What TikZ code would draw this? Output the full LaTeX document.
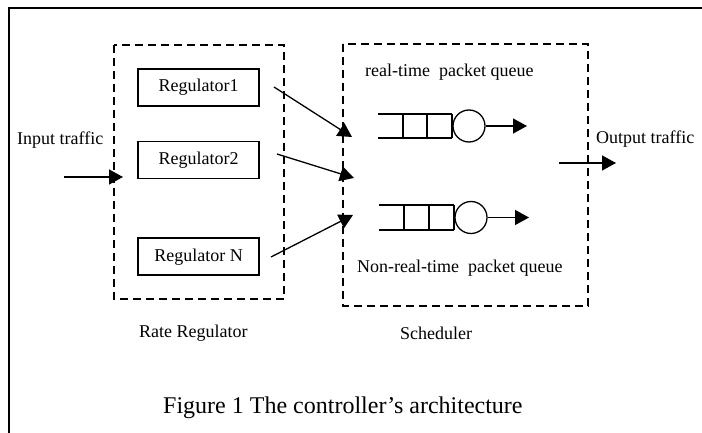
\documentclass[tikz,border=0pt]{standalone}
\usepackage{fontspec}
\setmainfont{Liberation Serif}
\usetikzlibrary{arrows.meta}
\begin{document}
\begin{tikzpicture}[x=1pt,y=-1pt,
  frameline/.style={line width=1.6pt},
  dashbox/.style={draw,line width=1.3pt,dash pattern=on 8pt off 5pt},
  regbox/.style={draw,line width=1.3pt,minimum width=121pt,minimum height=37pt,inner sep=0pt,font=\fontsize{18}{20}\selectfont},
  lbl/.style={inner sep=0pt,anchor=base west,font=\fontsize{18}{20}\selectfont},
  flow/.style={line width=1.3pt,-{Triangle[length=14pt,width=15pt]}},
  server/.style={draw,circle,line width=1.3pt,minimum size=32pt,inner sep=0pt},
  qline/.style={line width=1.3pt}]
\useasboundingbox (0,0) rectangle (702,433);

% outer frame (only its top and left edges lie inside the page)
\draw[frameline] (9,433) -- (9,8) -- (702,8);

% rate regulator block
\draw[dashbox] (114,45) rectangle (284,299);
\node[regbox] (reg1) at (198.5,87.5) {Regulator1};
\node[regbox] (reg2) at (198.5,160) {Regulator2};
\node[regbox, text height=13pt] (regN) at (198.5,256.5) {Regulator N};

% scheduler block
\draw[dashbox] (343,44) rectangle (588,306);

% real-time queue
\draw[qline] (378,114) -- (452,114) (378,138) -- (452,138)
             (403,114) -- (403,138) (427,114) -- (427,138) (452,114) -- (452,138);
\node[server] (srv1) at (469,126) {};
\coordinate (out1) at (527,126);
\draw[flow] (srv1.east) -- (out1);

% non-real-time queue
\draw[qline] (379,205) -- (454,205) (379,230) -- (454,230)
             (404,205) -- (404,230) (429,205) -- (429,230) (454,205) -- (454,230);
\node[server] (srv2) at (471,217.5) {};
\coordinate (out2) at (529,217.5);
\draw[flow] (srv2.east) -- (out2);

% labels
\node[lbl] (inlbl) at (17,145) {Input traffic};
\node[lbl] (rtlbl) at (365,77) {real-time\ \ packet queue};
\node[lbl] (nrtlbl) at (357,272) {Non-real-time\ \ packet queue};
\node[lbl] (outlbl) at (596,144) {Output traffic};
\node[lbl] (ratelbl) at (139,337) {Rate Regulator};
\node[lbl] (schedlbl) at (400,339) {Scheduler};
\node[lbl, font=\fontsize{24}{28}\selectfont] (caption) at (163,413) {Figure 1 The controller’s architecture};

% traffic arrows
\coordinate (inA) at (64,177);
\coordinate (inB) at (123,177);
\draw[flow] (inA) -- (inB);

\coordinate (r1s) at (274,87);
\coordinate (r1e) at (352,137);
\draw[flow] (r1s) -- (r1e);
\coordinate (r2s) at (277,154);
\coordinate (r2e) at (354,178);
\draw[flow] (r2s) -- (r2e);
\coordinate (rNs) at (271,257);
\coordinate (rNe) at (353,215);
\draw[flow] (rNs) -- (rNe);

\coordinate (outA) at (559,163);
\coordinate (outB) at (616,163);
\draw[flow] (outA) -- (outB);
\end{tikzpicture}
\end{document}
